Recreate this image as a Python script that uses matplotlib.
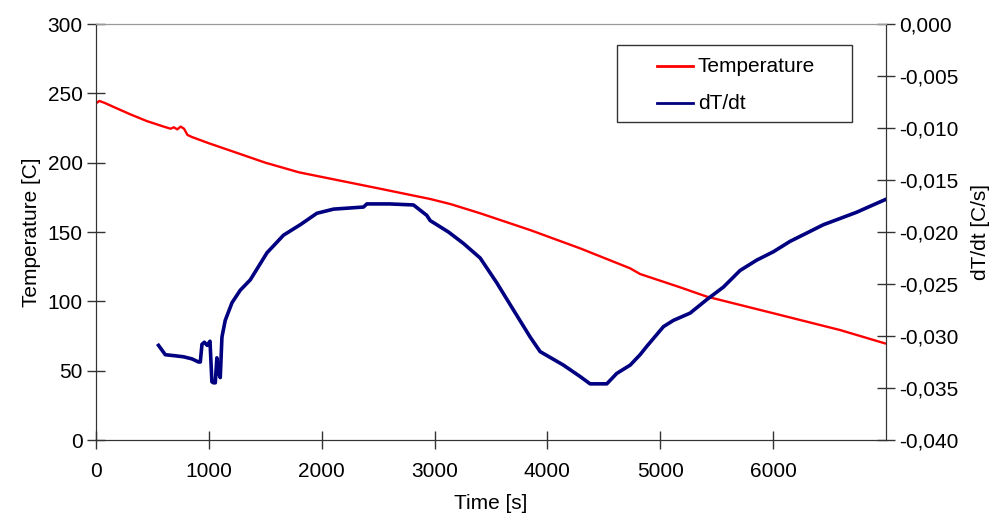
import numpy as np
import matplotlib
matplotlib.use("Agg")
import matplotlib.pyplot as plt
from matplotlib.ticker import FuncFormatter
from matplotlib.patches import Rectangle

plt.rcParams['font.family'] = ['Liberation Sans', 'DejaVu Sans']

# temperature curve [s], [C]
t_temp = [0, 30, 80, 150, 300, 450, 600, 660, 690, 720, 750, 780, 810, 850,
          1000, 1190, 1500, 1800, 2135, 2500, 2961, 3138, 3404, 3847, 4290,
          4733, 4821, 5176, 5412, 6002, 6593, 6990]
temp = [242.8, 244.5, 243.0, 240.4, 235.0, 230.0, 226.0, 224.5, 225.5, 224.0,
        226.0, 224.5, 220.0, 218.5, 214.0, 208.7, 200.0, 193.0, 187.5, 181.5,
        173.8, 170.2, 163.5, 151.4, 138.2, 123.8, 119.7, 110.1, 103.4, 91.4,
        79.3, 69.7]

# dT/dt curve [s], [C/s]
t_rate = [554, 614, 700, 776, 850, 909, 924, 939, 960, 985, 1010, 1027, 1040,
          1057, 1071, 1085, 1101, 1116, 1145, 1205, 1278, 1367, 1515, 1662,
          1810, 1957, 2105, 2370, 2400, 2600, 2813, 2931, 2961, 3123, 3256,
          3404, 3552, 3699, 3847, 3935, 4142, 4290, 4378, 4526, 4614, 4733,
          4821, 4880, 5028, 5116, 5264, 5412, 5559, 5707, 5855, 6002, 6150,
          6298, 6445, 6593, 6740, 6885, 6990]
rate = [-0.0309, -0.0318, -0.0319, -0.0320, -0.0322, -0.0325, -0.0325,
        -0.0308, -0.0306, -0.0309, -0.0305, -0.0344, -0.0345, -0.0345,
        -0.0321, -0.0335, -0.0340, -0.0301, -0.0285, -0.0268, -0.0256,
        -0.0246, -0.0220, -0.0203, -0.0193, -0.0182, -0.0178, -0.0176,
        -0.0173, -0.0173, -0.0174, -0.0184, -0.0189, -0.0200, -0.0211,
        -0.0225, -0.0249, -0.0275, -0.0301, -0.0315, -0.0328, -0.0339,
        -0.0346, -0.0346, -0.0336, -0.0328, -0.0318, -0.0310, -0.0291,
        -0.0285, -0.0278, -0.0265, -0.0253, -0.0237, -0.0227, -0.0219,
        -0.0209, -0.0201, -0.0193, -0.0187, -0.0181, -0.0174, -0.0169]

red = '#FF0000'
navy = '#000080'
fs = 15

fig = plt.figure(figsize=(9.93, 5.16), dpi=100)
ax = fig.add_axes([96/993, 1-440/516, (886-96)/993, (440-24)/516])
ax2 = ax.twinx()

ax.plot(t_temp, temp, color=red, lw=1.7)
ax2.plot(t_rate, rate, color=navy, lw=2.6)

ax.set_xlim(0, 7000)
ax.set_ylim(0, 300)
ax2.set_ylim(-0.04, 0)
ax.set_xticks(np.arange(0, 7000, 1000))
ax.set_yticks(np.arange(0, 301, 50))
ax2.set_yticks(np.arange(-0.04, 0.0001, 0.005))
ax2.yaxis.set_major_formatter(FuncFormatter(
    lambda v, p: f"{abs(v) if abs(v) < 1e-9 else v:.3f}".replace('.', ',')))

for a in (ax, ax2):
    a.tick_params(direction='inout', length=13, width=1, colors='#333333',
                  labelsize=fs, labelcolor='black')
    for s in ('left', 'right', 'bottom'):
        a.spines[s].set_color('#333333')
    a.spines['top'].set_color('#999999')
ax.tick_params(axis='y', pad=3)
ax2.tick_params(axis='y', pad=3)
ax.tick_params(axis='x', pad=9)

ax.set_xlabel('Time [s]', fontsize=fs, labelpad=10)
ax.set_ylabel('Temperature [C]', fontsize=fs, labelpad=5)
ax2.set_ylabel('dT/dt [C/s]', fontsize=fs, labelpad=9)

# legend box, drawn like the spreadsheet one
ax2.add_patch(Rectangle((0.6595, 0.7644), 0.2975, 0.1851, transform=ax2.transAxes,
                        facecolor='white', edgecolor='#333333', lw=1, zorder=5))
for yy, col, name in [(0.899, red, 'Temperature'), (0.810, navy, 'dT/dt')]:
    ax2.plot([0.710, 0.7557], [yy, yy], color=col, lw=2, transform=ax2.transAxes,
             zorder=6, clip_on=False)
    ax2.text(0.762, yy, name, transform=ax2.transAxes, fontsize=fs, va='center',
             ha='left', zorder=6)

fig.savefig('out.png', dpi=100)
